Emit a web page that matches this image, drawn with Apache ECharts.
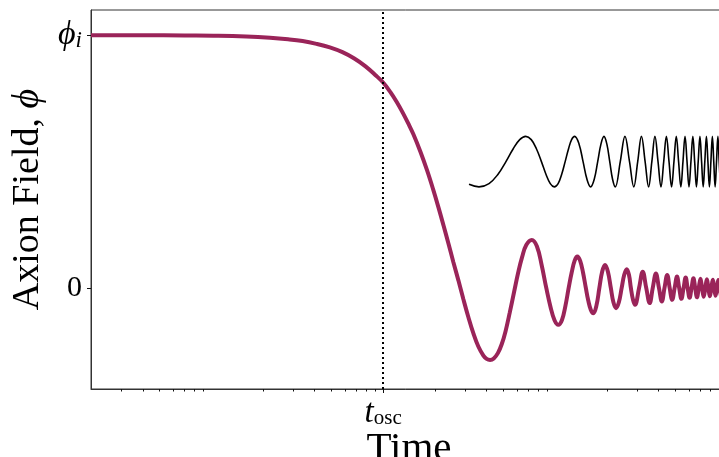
<!DOCTYPE html>
<html>
<head>
<meta charset="utf-8">
<script src="https://cdn.jsdelivr.net/npm/echarts@6/dist/echarts.min.js"></script>
<style>html,body{margin:0;padding:0;background:#fff;}#c{width:719px;height:457px;}</style>
</head>
<body>
<div id="c"></div>
<script>
// Time in units of t_osc (log axis), field in units of phi_i
const tMain = [0.02,0.04,0.07,0.11,0.16,0.22,0.28,0.34,0.41,0.49,0.58,0.68,0.79,0.9,1.0,1.1,1.2,1.3,1.4,1.5,1.65,1.8,1.95,2.1,2.25,2.4,2.56,2.74,2.93,3.13,3.35,3.58,3.83,4.0,4.19,4.4,4.65,4.9,5.15,5.45,5.78,6.1,6.43,6.8,7.32,
  7.84,8.36,8.89,9.41,9.93,10.45,10.97,11.48,12.0,12.5,13.0,13.48,14.0,14.55,15.1,15.6,16.15,16.7,17.4,18.1,18.8,19.53,20.3,21.1,21.85,22.63,23.5,24.4,25.25,26.12,26.9,27.6,28.4,29.18,
  30.8,32.35,33.9,35.5,37.0,38.6,40.2,41.8,43.3,44.9,46.4,48.0,49.6,51.2,52.7,54.3,55.9,57.5,59.0,60.6,62.2,63.8,65.3,66.9,68.5,70.1,71.6,73.2,74.8,76.4,77.9,79.5,81.1,82.7,84.2,85.8,87.4,89.0,90.5,92.1];
const phiMain = [1.0,1.0,0.999,0.998,0.995,0.990,0.984,0.977,0.966,0.952,0.933,0.908,0.877,0.843,0.813,0.776,0.736,0.694,0.651,0.608,0.538,0.466,0.392,0.318,0.245,0.175,0.103,0.03,-0.045,-0.115,-0.180,-0.232,-0.268,-0.281,-0.285,-0.279,-0.258,-0.222,-0.172,-0.098,-0.015,0.06,0.122,0.170,0.19,
  0.165,0.09,0.0,-0.075,-0.128,-0.146,-0.127,-0.072,0.0,0.062,0.108,0.124,0.107,0.06,0.0,-0.05,-0.087,-0.100,-0.07,0.0,0.065,0.091,0.064,0.0,-0.057,-0.080,-0.057,0.0,0.052,0.074,0.052,0.0,-0.047,-0.067,
  0.0,0.064,0.0,-0.060,0.0,0.057,0.0,-0.054,0.0,0.051,0.0,-0.047,0.0,0.045,0.0,-0.043,0.0,0.041,0.0,-0.039,0.0,0.038,0.0,-0.037,0.0,0.036,0.0,-0.035,0.0,0.034,0.0,-0.033,0.0,0.032,0.0,-0.031,0.0,0.031,0.0,-0.030];

const tRef = [3.16,3.61,4.13,4.66,5.18,5.70,6.23,6.75,7.27,7.80,8.33,8.85,9.38,9.9,10.42,10.93,11.45,11.97,12.48,13.0,13.78,14.55,15.33,16.1,16.9,17.7,18.5,19.25,20.0,20.8,21.6,22.4,23.95,25.5,27.1,28.7,30.25,31.8,33.4,35.0,36.55,38.1,39.7,41.3,42.85,44.4,46.0,47.6,49.15,50.7,52.3,53.9,55.45,57.0,58.55,60.1,61.7,63.3,64.85,66.4,68.0,69.6,71.15,72.7,74.3,75.9,77.45,79.0,80.6,82.2,83.75,85.3,86.9,88.5,90.05,91.6];
const phiRef = [0.41,0.40,0.413,0.45,0.50,0.55,0.587,0.60,0.587,0.55,0.50,0.45,0.413,0.40,0.413,0.45,0.50,0.55,0.587,0.60,0.57,0.50,0.43,0.40,0.43,0.50,0.57,0.60,0.57,0.50,0.43,0.40,0.50,0.60,0.50,0.40,0.50,0.60,0.50,0.40,0.50,0.60,0.50,0.40,0.50,0.60,0.50,0.40,0.50,0.60,0.50,0.40,0.50,0.60,0.50,0.40,0.50,0.60,0.50,0.40,0.50,0.60,0.50,0.40,0.50,0.60,0.50,0.40,0.50,0.60,0.50,0.40,0.50,0.60,0.50,0.40];

const minorTicks = [0.03,0.04,0.05,0.06,0.07,0.08,0.09,0.2,0.3,0.4,0.5,0.6,0.7,0.8,0.9,2,3,4,5,6,7,8,9,20,30,40,50,60,70,80,90];
const tOsc = 1;
const yTicks = [0, 1];

const SERIF = "'Liberation Serif','DejaVu Serif',serif";
const mainData = tMain.map((t,i)=>[t, phiMain[i]]);
const refData = tRef.map((t,i)=>[t, phiRef[i]]);

const chart = echarts.init(document.getElementById('c'), null, {renderer:'canvas'});
const axisLine = {show:true, onZero:false, lineStyle:{color:'#333', width:1}};
chart.setOption({
  animation:false,
  backgroundColor:'#fff',
  grid:{left:91, right:-8, top:10, bottom:68, containLabel:false, outerBoundsMode:'none',
        show:true, borderColor:'#333', borderWidth:1, backgroundColor:'transparent'},
  xAxis:[{
    type:'log', logBase:10, min:0.02, max:100,
    axisLine:axisLine,
    axisTick:{show:true, customValues:minorTicks, length:2.5, lineStyle:{color:'#111', width:1}},
    axisLabel:{show:false},
    splitLine:{show:false},
    name:'Time', nameLocation:'middle', nameGap:40,
    nameTextStyle:{fontFamily:SERIF, fontSize:41, color:'#000'}
  },{
    type:'log', logBase:10, min:0.02, max:100, position:'bottom',
    axisLine:{show:false, onZero:false},
    axisTick:{show:true, customValues:[tOsc], length:4, lineStyle:{color:'#111', width:1}},
    axisLabel:{show:true, customValues:[tOsc], margin:8,
      formatter:()=> '{t|t}{o|osc}',
      rich:{t:{fontFamily:SERIF, fontSize:33, fontStyle:'italic', color:'#000', lineHeight:32, verticalAlign:'middle'},
            o:{fontFamily:SERIF, fontSize:21, color:'#000', lineHeight:14, verticalAlign:'bottom'}}},
    splitLine:{show:false}
  }],
  yAxis:{
    type:'value', min:-0.4, max:1.1,
    axisLine:axisLine,
    axisTick:{show:true, customValues:yTicks, length:4, lineStyle:{color:'#111', width:1}},
    axisLabel:{show:true, customValues:yTicks, margin:9,
      formatter:(v)=> v===0 ? '{n|0}' : '{p|ϕ}{s|i}',
      rich:{n:{fontFamily:SERIF, fontSize:30, color:'#000'},
            p:{fontFamily:SERIF, fontSize:34, fontStyle:'italic', color:'#000', lineHeight:34, verticalAlign:'middle'},
            s:{fontFamily:SERIF, fontSize:23, fontStyle:'italic', color:'#000', lineHeight:16, verticalAlign:'bottom'}}},
    splitLine:{show:false},
    name:'{r|Axion Field, }{m|ϕ}', nameLocation:'middle', nameGap:42,
    nameTextStyle:{rich:{r:{fontFamily:SERIF, fontSize:38, color:'#000'}, m:{fontFamily:SERIF, fontSize:38, fontStyle:'italic', color:'#000'}}}
  },
  series:[{
    type:'line', data:mainData, smooth:0.4, showSymbol:false, symbol:'none',
    lineStyle:{color:'#9a2459', width:4}, z:3,
    markLine:{silent:true, symbol:['none','none'], label:{show:false},
      lineStyle:{color:'#000', type:[2,3], width:2}, data:[{xAxis:tOsc}]}
  },{
    type:'line', data:refData, smooth:0.4, showSymbol:false, symbol:'none',
    lineStyle:{color:'#000', width:1.6}, z:2
  }]
});
</script>
</body>
</html>
